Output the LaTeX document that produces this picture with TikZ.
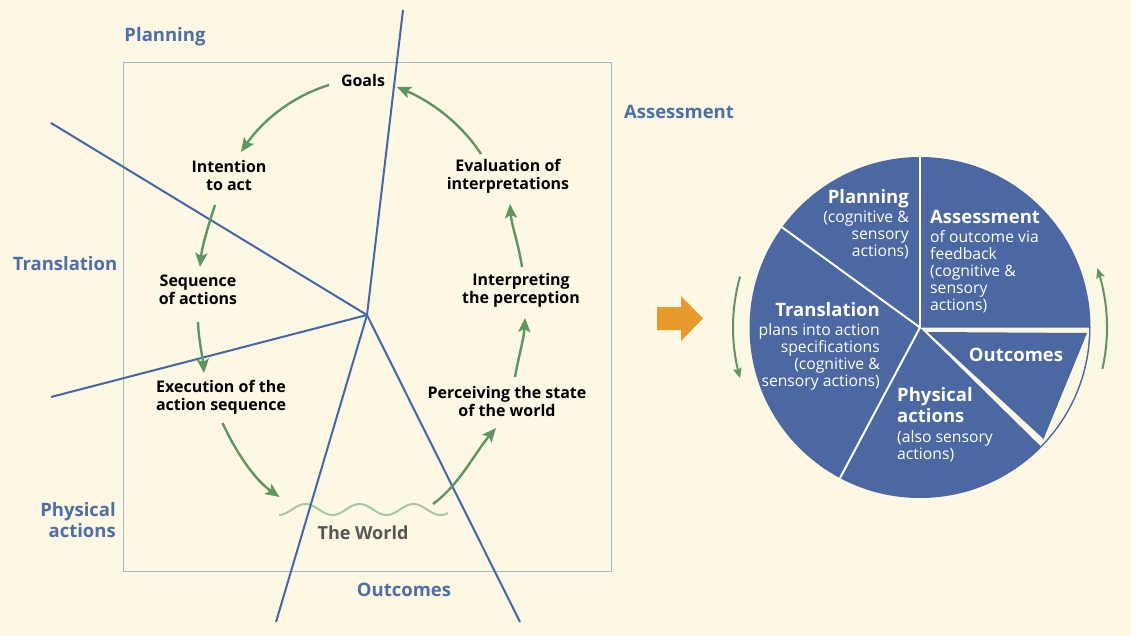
\documentclass[tikz,border=0pt]{standalone}
\usepackage{fontspec}
\setmainfont{Open Sans}
\usetikzlibrary{arrows.meta,calc}
\definecolor{bgcream}{HTML}{FCF8E4}
\definecolor{lineblue}{HTML}{4466AA}
\definecolor{labelblue}{HTML}{4E6EAB}
\definecolor{pieblue}{HTML}{4B68A3}
\definecolor{rectline}{HTML}{A3B8CF}
\definecolor{arrgreen}{HTML}{5E9660}
\definecolor{wavegreen}{HTML}{A8C8A0}
\definecolor{arrorange}{HTML}{E89A2C}
\definecolor{worldgray}{HTML}{555555}
\begin{document}
\begin{tikzpicture}[x=1pt,y=-1pt,
  blueline/.style={draw=lineblue, line width=2pt},
  flowarrow/.style={draw=arrgreen, line width=2.4pt, -{Stealth[length=14pt,width=12pt,inset=3pt]}},
  sidearrow/.style={draw=arrgreen, line width=2pt, -{Stealth[length=10pt,width=8.5pt,inset=2pt]}},
  steplabel/.style={font=\fontsize{16}{18}\selectfont\bfseries, text=black, align=center, inner sep=0pt},
  phaselabel/.style={font=\fontsize{18.5}{20.5}\selectfont\bfseries, text=labelblue, inner sep=0pt},
  pietitle/.style={font=\fontsize{18.5}{21}\selectfont\bfseries, text=white, inner sep=0pt},
  piebody/.style={font=\fontsize{15.7}{17}\selectfont, text=white, inner sep=0pt},
  divider/.style={draw=white, line width=2pt},
]
\fill[bgcream] (0,0) rectangle (1131,636);
\useasboundingbox (0,0) rectangle (1131,636);

% ---------- left diagram ----------
\draw[rectline, line width=1pt] (123,63) rectangle (611,571);

\draw[wavegreen, line width=2pt] plot[domain=0:169, samples=90] ({279+\x}, {509.5-5.5*sin(6.6667*(\x-13))});

\coordinate (C) at (367,315);
\coordinate (L1) at (403,10);
\coordinate (L2) at (51,123);
\coordinate (L3) at (51,397);
\coordinate (L4) at (276,622);
\coordinate (L5) at (520,622);
\draw[blueline] (L1) -- (C);
\draw[blueline] (L2) -- (C);
\draw[blueline] (L3) -- (C);
\draw[blueline] (C) -- (L4);
\draw[blueline] (C) -- (L5);

% step labels
\node[steplabel] (goals) at (363,81) {Goals};
\node[steplabel] (intent) at (229,176) {Intention\\to act};
\node[steplabel] (seq) at (198,290) {Sequence\\of actions};
\node[steplabel] (exec) at (221,397) {Execution of the\\action sequence};
\node[steplabel] (eval) at (508,176) {Evaluation of\\interpretations};
\node[steplabel] (interp) at (521,290) {Interpreting\\the perception};
\node[steplabel] (perc) at (507,401) {Perceiving the state\\of the world};
\node[font=\fontsize{18}{20}\selectfont\bfseries, text=worldgray, inner sep=0pt] (world) at (363,533) {The World};

% phase labels
\node[phaselabel] (planning) at (165,37) {Planning};
\node[phaselabel] (assess) at (679,112) {Assessment};
\node[phaselabel] (transl) at (65,264) {Translation};
\node[phaselabel, align=right, anchor=east] (phys) at (116,520) {Physical\\actions};
\node[phaselabel] (outc) at (404,590) {Outcomes};

% flow arrow end points
\coordinate (a1s) at (329,85);   \coordinate (a1e) at (241,152);
\coordinate (a2s) at (215,205);  \coordinate (a2e) at (200,267);
\coordinate (a3s) at (198,322);  \coordinate (a3e) at (204,373);
\coordinate (a4s) at (222.5,423);\coordinate (a4e) at (279.5,497);
\coordinate (a5s) at (433,504);  \coordinate (a5e) at (496,428);
\coordinate (a6s) at (515,377);  \coordinate (a6e) at (525,318);
\coordinate (a7s) at (522,267);  \coordinate (a7e) at (510,204);
\coordinate (a8s) at (481,154);  \coordinate (a8e) at (397,87);

\draw[flowarrow] (a1s) .. controls (293,96) and (263,120) .. (a1e);
\draw[flowarrow] (a2s) .. controls (208.5,225) and (202.1,246) .. (a2e);
\draw[flowarrow] (a3s) .. controls (198.5,339) and (202.5,356) .. (a3e);
\draw[flowarrow] (a4s) .. controls (235.5,451.2) and (254.1,479.3) .. (a4e);
\draw[flowarrow] (a5s) .. controls (459.7,484.5) and (474.5,453.1) .. (a5e);
\draw[flowarrow] (a6s) .. controls (518.5,357) and (524,338) .. (a6e);
\draw[flowarrow] (a7s) .. controls (519,246) and (511.5,225) .. (a7e);
\draw[flowarrow] (a8s) .. controls (460,122) and (430,101) .. (a8e);

% ---------- orange arrow ----------
\fill[arrorange] (657,307) -- (681,307) -- (681,296) -- (703,318.5) -- (681,341) -- (681,330) -- (657,330) -- cycle;

% ---------- pie ----------
\coordinate (P) at (920,327.5);
\fill[pieblue] (P) circle[radius=170.5pt];
\fill[bgcream] (P) -- plot[domain=0:44.5, samples=40] ({920+169*cos(\x)},{327.5+169*sin(\x)}) -- cycle;
\fill[pieblue] (927.5,332) -- (1087,333) -- (1043.5,439) -- cycle;
\coordinate (D1) at (920,157);
\coordinate (D2) at (782.1,227.3);
\coordinate (D3) at (840,478);
\draw[divider] (P) -- (D1);
\draw[divider] (P) -- (D2);
\draw[divider] (P) -- (D3);

\draw[sidearrow] plot[domain=164.2:195.7, samples=40] ({920+187*cos(\x)},{327.5-187*sin(\x)});
\draw[sidearrow] plot[domain=-12.8:18.5, samples=40] ({920+187*cos(\x)},{327.5-187*sin(\x)});

\node[pietitle, anchor=base east] (pplan) at (909,204) {Planning};
\node[piebody, anchor=north east, align=right] (pplanb) at (909,210.3) {(cognitive \&\\sensory\\actions)};
\node[pietitle, anchor=base west] (passe) at (930,224) {Assessment};
\node[piebody, anchor=north west, align=left] (passeb) at (930,230.3) {of outcome via\\feedback\\(cognitive \&\\sensory\\actions)};
\node[pietitle, anchor=base east] (ptrans) at (880,316.7) {Translation};
\node[piebody, anchor=north east, align=right] (ptransb) at (880,323.3) {plans into action\\specifications\\(cognitive \&\\sensory actions)};
\node[pietitle, anchor=base] (pout) at (1016,361.7) {Outcomes};
\node[pietitle, anchor=north west, align=left] (pphys) at (897,387.7) {Physical\\actions};
\node[piebody, anchor=north west, align=left] (pphysb) at (897,430) {(also sensory\\actions)};
\end{tikzpicture}
\end{document}
